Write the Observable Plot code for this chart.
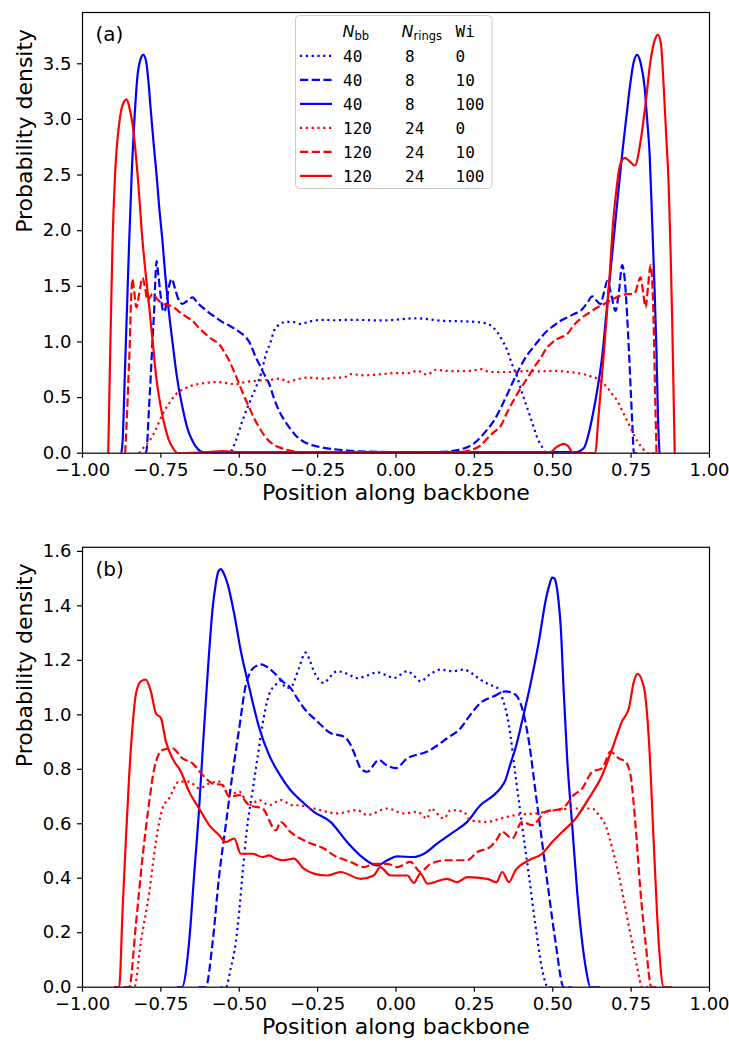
<!DOCTYPE html>
<html><head><meta charset="utf-8">
<script src="https://cdn.jsdelivr.net/npm/d3@7"></script>
<script src="https://cdn.jsdelivr.net/npm/@observablehq/plot@0.6"></script>
<style>
body{margin:0;background:#fff;}
#fig{position:relative;width:729px;height:1045px;font-family:"DejaVu Sans",sans-serif;background:#fff;}
#fig > svg{position:absolute;left:0;}
</style></head><body><div id="fig"></div>
<script>
// ---------- tick values ----------
const xTicks = [-1, -0.75, -0.5, -0.25, 0, 0.25, 0.5, 0.75, 1];
const yTicksA = [0, 0.5, 1, 1.5, 2, 2.5, 3, 3.5];
const yTicksB = [0, 0.2, 0.4, 0.6, 0.8, 1.0, 1.2, 1.4, 1.6];

// ---------- legend table ----------
const legNbb = ["40", "40", "40", "120", "120", "120"];
const legNrings = ["8", "8", "8", "24", "24", "24"];
const legWi = ["0", "10", "100", "0", "10", "100"];

// ---------- panel (a) curves: [position, density] ----------
const a_blueDot = [[-0.56,0],[-0.532,0],[-0.51,0.12],[-0.49,0.29],[-0.468,0.45],[-0.447,0.59],[-0.43,0.72],[-0.415,0.89],[-0.40,1.0],[-0.389,1.10],[-0.37,1.16],[-0.35,1.18],[-0.33,1.18],[-0.305,1.163],[-0.28,1.18],[-0.255,1.195],[-0.231,1.199],[-0.2,1.195],[-0.15,1.198],[-0.1,1.197],[-0.05,1.193],[0,1.2],[0.03,1.208],[0.068,1.213],[0.1,1.205],[0.15,1.19],[0.206,1.186],[0.25,1.18],[0.291,1.163],[0.31,1.13],[0.323,1.088],[0.34,1.01],[0.355,0.923],[0.37,0.80],[0.387,0.683],[0.40,0.56],[0.418,0.413],[0.435,0.27],[0.45,0.144],[0.465,0.06],[0.482,0],[0.5,0]];
const a_blueDash = [[-0.80,0],[-0.796,0.02],[-0.788,0.4],[-0.782,0.71],[-0.776,1.05],[-0.771,1.31],[-0.767,1.6],[-0.764,1.726],[-0.758,1.6],[-0.75,1.4],[-0.744,1.29],[-0.739,1.27],[-0.732,1.35],[-0.724,1.5],[-0.715,1.567],[-0.707,1.5],[-0.695,1.39],[-0.681,1.343],[-0.665,1.37],[-0.649,1.40],[-0.633,1.35],[-0.617,1.31],[-0.595,1.26],[-0.575,1.22],[-0.555,1.18],[-0.532,1.148],[-0.51,1.11],[-0.49,1.07],[-0.478,1.04],[-0.468,1.0],[-0.457,0.93],[-0.447,0.86],[-0.436,0.80],[-0.426,0.74],[-0.415,0.68],[-0.404,0.62],[-0.39,0.50],[-0.373,0.38],[-0.357,0.30],[-0.34,0.23],[-0.32,0.16],[-0.298,0.11],[-0.265,0.07],[-0.23,0.048],[-0.19,0.033],[-0.156,0.024],[-0.1,0.015],[0,0.01],[0.1,0.01],[0.163,0.015],[0.2,0.03],[0.227,0.054],[0.25,0.09],[0.27,0.144],[0.29,0.21],[0.312,0.29],[0.333,0.40],[0.355,0.53],[0.376,0.66],[0.397,0.78],[0.418,0.88],[0.44,0.96],[0.46,1.03],[0.482,1.10],[0.505,1.15],[0.525,1.19],[0.546,1.22],[0.567,1.25],[0.589,1.28],[0.61,1.35],[0.626,1.41],[0.64,1.37],[0.652,1.34],[0.663,1.44],[0.674,1.55],[0.687,1.42],[0.70,1.28],[0.711,1.45],[0.7215,1.69],[0.73,1.55],[0.737,1.25],[0.743,0.92],[0.749,0.55],[0.754,0.25],[0.759,0],[0.78,0]];
const a_blueSolid = [[-0.876,0],[-0.872,0.11],[-0.865,0.71],[-0.858,1.31],[-0.851,1.91],[-0.843,2.51],[-0.832,3.11],[-0.824,3.41],[-0.815,3.54],[-0.806,3.58],[-0.797,3.52],[-0.79,3.35],[-0.783,3.11],[-0.774,2.81],[-0.764,2.51],[-0.755,2.2],[-0.745,1.91],[-0.736,1.6],[-0.726,1.31],[-0.713,1.0],[-0.70,0.71],[-0.681,0.41],[-0.665,0.22],[-0.649,0.11],[-0.633,0.04],[-0.617,0.01],[-0.55,0.005],[0,0.01],[0.5,0.01],[0.573,0.01],[0.60,0.05],[0.615,0.18],[0.63,0.38],[0.645,0.62],[0.658,0.88],[0.669,1.2],[0.679,1.49],[0.69,1.8],[0.70,2.09],[0.711,2.4],[0.7215,2.69],[0.734,3.0],[0.746,3.29],[0.757,3.5],[0.769,3.58],[0.781,3.5],[0.793,3.29],[0.801,3.0],[0.809,2.69],[0.817,2.09],[0.8246,1.49],[0.831,0.90],[0.836,0.29],[0.8405,0]];
const a_redDot = [[-0.82,0],[-0.805,0.05],[-0.787,0.11],[-0.765,0.22],[-0.745,0.35],[-0.723,0.45],[-0.702,0.53],[-0.675,0.58],[-0.649,0.61],[-0.61,0.63],[-0.575,0.64],[-0.54,0.63],[-0.511,0.62],[-0.48,0.64],[-0.447,0.65],[-0.40,0.66],[-0.368,0.67],[-0.347,0.64],[-0.32,0.66],[-0.283,0.68],[-0.23,0.67],[-0.19,0.68],[-0.167,0.68],[-0.145,0.71],[-0.1,0.70],[-0.049,0.71],[0,0.72],[0.04,0.72],[0.068,0.74],[0.1,0.705],[0.126,0.75],[0.16,0.74],[0.206,0.737],[0.24,0.74],[0.27,0.755],[0.30,0.73],[0.333,0.73],[0.376,0.73],[0.42,0.74],[0.46,0.735],[0.503,0.74],[0.55,0.73],[0.599,0.71],[0.622,0.69],[0.642,0.67],[0.66,0.63],[0.674,0.59],[0.69,0.53],[0.706,0.47],[0.722,0.38],[0.7375,0.29],[0.753,0.2],[0.769,0.11],[0.785,0.05],[0.801,0],[0.84,0]];
const a_redDash = [[-0.864,0],[-0.858,0.35],[-0.853,0.71],[-0.849,1.0],[-0.846,1.31],[-0.8405,1.567],[-0.835,1.45],[-0.828,1.31],[-0.82,1.42],[-0.8086,1.576],[-0.80,1.48],[-0.793,1.37],[-0.785,1.40],[-0.777,1.43],[-0.76,1.38],[-0.745,1.343],[-0.725,1.33],[-0.7075,1.31],[-0.695,1.28],[-0.681,1.25],[-0.665,1.22],[-0.649,1.19],[-0.63,1.13],[-0.607,1.07],[-0.585,1.02],[-0.564,0.98],[-0.55,0.92],[-0.532,0.83],[-0.516,0.73],[-0.50,0.62],[-0.484,0.51],[-0.468,0.41],[-0.452,0.31],[-0.436,0.23],[-0.415,0.14],[-0.394,0.084],[-0.37,0.05],[-0.34,0.024],[-0.3,0.01],[0,0.005],[0.2,0.01],[0.24,0.03],[0.27,0.07],[0.29,0.13],[0.312,0.19],[0.333,0.24],[0.355,0.37],[0.376,0.48],[0.397,0.58],[0.418,0.67],[0.44,0.77],[0.46,0.85],[0.482,0.95],[0.493,0.98],[0.51,1.02],[0.525,1.04],[0.546,1.07],[0.567,1.15],[0.589,1.21],[0.615,1.26],[0.642,1.31],[0.67,1.35],[0.695,1.39],[0.72,1.42],[0.7375,1.43],[0.755,1.43],[0.764,1.45],[0.772,1.53],[0.78,1.58],[0.788,1.45],[0.796,1.31],[0.804,1.5],[0.812,1.69],[0.818,1.5],[0.822,1.15],[0.826,0.6],[0.831,0]];
const a_redSolid = [[-0.918,0],[-0.913,0.71],[-0.908,1.4],[-0.904,1.91],[-0.896,2.51],[-0.883,2.96],[-0.872,3.13],[-0.859,3.18],[-0.85,3.1],[-0.8405,2.96],[-0.8245,2.51],[-0.8086,1.91],[-0.798,1.6],[-0.787,1.31],[-0.776,1.0],[-0.766,0.71],[-0.75,0.41],[-0.737,0.24],[-0.7235,0.11],[-0.71,0.04],[-0.697,0],[-0.6,0.01],[-0.55,0.02],[-0.5,0.01],[0.4,0.005],[0.493,0.01],[0.51,0.05],[0.535,0.084],[0.55,0.06],[0.562,0.01],[0.6,0],[0.636,0],[0.645,0.3],[0.654,0.6],[0.663,0.9],[0.679,1.49],[0.693,2.09],[0.702,2.34],[0.711,2.54],[0.72,2.63],[0.73,2.655],[0.746,2.62],[0.762,2.586],[0.78,2.8],[0.796,3.14],[0.812,3.53],[0.825,3.71],[0.835,3.763],[0.845,3.68],[0.854,3.29],[0.862,2.85],[0.870,2.39],[0.876,1.8],[0.881,1.19],[0.885,0.6],[0.889,0]];

// ---------- panel (b) curves ----------
const b_blueDot = [[-0.56,0],[-0.543,0],[-0.527,0.07],[-0.511,0.165],[-0.50,0.28],[-0.49,0.41],[-0.474,0.595],[-0.458,0.718],[-0.442,0.84],[-0.426,0.963],[-0.405,1.074],[-0.383,1.111],[-0.368,1.125],[-0.351,1.099],[-0.337,1.10],[-0.31,1.17],[-0.289,1.228],[-0.275,1.2],[-0.262,1.16],[-0.23,1.117],[-0.21,1.14],[-0.188,1.16],[-0.155,1.15],[-0.124,1.135],[-0.09,1.145],[-0.06,1.156],[-0.03,1.145],[-0.007,1.135],[0.036,1.16],[0.06,1.14],[0.078,1.123],[0.11,1.15],[0.142,1.166],[0.18,1.16],[0.216,1.166],[0.245,1.15],[0.269,1.129],[0.3,1.11],[0.323,1.099],[0.339,1.062],[0.36,0.963],[0.381,0.779],[0.402,0.595],[0.424,0.41],[0.445,0.226],[0.466,0.066],[0.485,0],[0.51,0]];
const b_blueDash = [[-0.63,0],[-0.607,0],[-0.585,0.165],[-0.564,0.41],[-0.543,0.595],[-0.522,0.779],[-0.50,0.951],[-0.479,1.111],[-0.463,1.16],[-0.445,1.18],[-0.431,1.185],[-0.41,1.175],[-0.394,1.16],[-0.362,1.123],[-0.337,1.10],[-0.315,1.06],[-0.294,1.025],[-0.251,0.976],[-0.209,0.933],[-0.166,0.92],[-0.145,0.89],[-0.13,0.85],[-0.113,0.804],[-0.092,0.791],[-0.055,0.834],[-0.03,0.815],[-0.002,0.804],[0.036,0.84],[0.1,0.865],[0.163,0.914],[0.206,0.951],[0.237,1.0],[0.269,1.043],[0.312,1.068],[0.349,1.086],[0.381,1.074],[0.402,1.025],[0.424,0.902],[0.445,0.718],[0.466,0.533],[0.487,0.349],[0.509,0.165],[0.535,0],[0.56,0]];
const b_blueSolid = [[-0.70,0],[-0.683,0],[-0.66,0.165],[-0.644,0.41],[-0.628,0.656],[-0.615,0.902],[-0.601,1.148],[-0.585,1.39],[-0.575,1.48],[-0.567,1.525],[-0.559,1.535],[-0.548,1.515],[-0.537,1.48],[-0.516,1.37],[-0.495,1.234],[-0.468,1.099],[-0.436,0.951],[-0.405,0.853],[-0.368,0.775],[-0.337,0.724],[-0.305,0.687],[-0.262,0.644],[-0.209,0.607],[-0.156,0.533],[-0.102,0.472],[-0.06,0.447],[-0.028,0.466],[0.004,0.48],[0.057,0.478],[0.089,0.49],[0.131,0.527],[0.184,0.57],[0.227,0.607],[0.269,0.668],[0.312,0.705],[0.333,0.73],[0.349,0.76],[0.365,0.82],[0.381,0.877],[0.402,0.976],[0.424,1.086],[0.456,1.271],[0.477,1.418],[0.49,1.48],[0.498,1.504],[0.506,1.5],[0.514,1.46],[0.52,1.40],[0.525,1.332],[0.535,1.086],[0.546,0.84],[0.562,0.595],[0.578,0.349],[0.594,0.165],[0.607,0.06],[0.62,0],[0.65,0]];
const b_redDot = [[-0.85,0],[-0.835,0],[-0.814,0.165],[-0.787,0.349],[-0.766,0.533],[-0.745,0.656],[-0.724,0.693],[-0.692,0.755],[-0.66,0.755],[-0.628,0.73],[-0.596,0.748],[-0.564,0.755],[-0.532,0.705],[-0.5,0.718],[-0.468,0.668],[-0.436,0.687],[-0.405,0.668],[-0.368,0.687],[-0.33,0.668],[-0.315,0.668],[-0.262,0.656],[-0.188,0.638],[-0.124,0.65],[-0.092,0.632],[-0.028,0.656],[0.025,0.638],[0.068,0.644],[0.1,0.619],[0.11,0.656],[0.153,0.619],[0.174,0.65],[0.216,0.644],[0.237,0.613],[0.291,0.607],[0.333,0.619],[0.381,0.632],[0.445,0.638],[0.509,0.65],[0.573,0.656],[0.626,0.656],[0.647,0.632],[0.668,0.595],[0.69,0.509],[0.711,0.41],[0.732,0.288],[0.753,0.165],[0.77,0.07],[0.785,0],[0.81,0]];
const b_redDash = [[-0.87,0],[-0.851,0],[-0.83,0.226],[-0.809,0.472],[-0.787,0.681],[-0.771,0.804],[-0.745,0.871],[-0.713,0.877],[-0.681,0.84],[-0.649,0.822],[-0.617,0.779],[-0.585,0.748],[-0.553,0.742],[-0.532,0.699],[-0.5,0.705],[-0.468,0.668],[-0.426,0.656],[-0.383,0.576],[-0.368,0.607],[-0.337,0.57],[-0.283,0.533],[-0.23,0.509],[-0.198,0.484],[-0.145,0.46],[-0.102,0.441],[-0.071,0.453],[-0.028,0.453],[0.004,0.441],[0.046,0.46],[0.078,0.423],[0.11,0.453],[0.163,0.466],[0.227,0.466],[0.259,0.496],[0.301,0.515],[0.32,0.54],[0.339,0.57],[0.371,0.546],[0.402,0.607],[0.434,0.595],[0.477,0.644],[0.53,0.656],[0.567,0.705],[0.594,0.73],[0.626,0.791],[0.658,0.804],[0.684,0.865],[0.711,0.84],[0.732,0.828],[0.748,0.779],[0.764,0.595],[0.78,0.349],[0.796,0.165],[0.815,0],[0.84,0]];
const b_redSolid = [[-0.90,0],[-0.883,0],[-0.872,0.288],[-0.862,0.533],[-0.851,0.779],[-0.84,0.963],[-0.83,1.074],[-0.814,1.123],[-0.798,1.129],[-0.782,1.086],[-0.766,1.006],[-0.75,0.988],[-0.734,0.902],[-0.713,0.84],[-0.686,0.791],[-0.66,0.718],[-0.628,0.656],[-0.596,0.595],[-0.564,0.558],[-0.543,0.533],[-0.516,0.546],[-0.495,0.49],[-0.458,0.49],[-0.426,0.478],[-0.405,0.484],[-0.383,0.472],[-0.362,0.466],[-0.326,0.472],[-0.294,0.435],[-0.262,0.417],[-0.22,0.41],[-0.177,0.423],[-0.113,0.398],[-0.071,0.41],[-0.05,0.441],[-0.018,0.41],[0.036,0.41],[0.057,0.383],[0.078,0.417],[0.1,0.38],[0.163,0.398],[0.195,0.386],[0.227,0.404],[0.291,0.398],[0.32,0.385],[0.339,0.423],[0.36,0.386],[0.381,0.429],[0.424,0.466],[0.466,0.49],[0.498,0.533],[0.53,0.57],[0.573,0.619],[0.615,0.693],[0.658,0.779],[0.69,0.877],[0.721,0.976],[0.743,1.025],[0.759,1.123],[0.771,1.15],[0.791,1.099],[0.807,0.902],[0.822,0.533],[0.838,0.165],[0.854,0],[0.88,0]];

// ---------- styling ----------
const BLUE = "#0000ff", RED = "#ff0000";
const DOT = "2.2,3.6", DASH = "8.2,3.5", SOLID = null;
const styles = [
  {color: BLUE, dash: DOT}, {color: BLUE, dash: DASH}, {color: BLUE, dash: SOLID},
  {color: RED, dash: DOT}, {color: RED, dash: DASH}, {color: RED, dash: SOLID}
];
const panelA = [a_blueDot, a_blueDash, a_blueSolid, a_redDot, a_redDash, a_redSolid];
const panelB = [b_blueDot, b_blueDash, b_blueSolid, b_redDot, b_redDash, b_redSolid];

const fmt2 = d => (d < 0 ? "\u2212" : "") + Math.abs(d).toFixed(2);
const fmt1 = d => Math.abs(d).toFixed(1);

function panel(curves, yDomain, yTicks, tag, height, mt, mb) {
  const lines = curves.map((c, i) => {
    const o = {x: d => d[0], y: d => d[1], stroke: styles[i].color, strokeWidth: 2.2,
      curve: "monotone-x", clip: true, strokeLinecap: "butt"};
    if (styles[i].dash) o.strokeDasharray = styles[i].dash;
    return Plot.line(c, o);
  });
  return Plot.plot({
    width: 729, height, marginLeft: 82, marginRight: 20, marginTop: mt, marginBottom: mb,
    style: {fontFamily: "DejaVu Sans, sans-serif", fontSize: "18px", color: "black", background: "transparent", overflow: "visible"},
    x: {domain: [-1, 1]},
    y: {domain: yDomain},
    marks: [
      ...lines,
      Plot.frame({stroke: "black", strokeWidth: 1.2}),
      Plot.axisX({ticks: xTicks, tickFormat: fmt2, tickSize: 5, tickPadding: 5, label: null, strokeWidth: 1.2}),
      Plot.axisY({ticks: yTicks, tickFormat: fmt1, tickSize: 5, tickPadding: 6, label: null, strokeWidth: 1.2}),
      Plot.text([tag], {text: d => d, frameAnchor: "top-left", dx: 13, dy: 22, fontSize: 20, lineAnchor: "middle", textAnchor: "start"}),
      Plot.text(["Position along backbone"], {text: d => d, frameAnchor: "bottom", dy: 40, fontSize: 22, lineAnchor: "middle"}),
      Plot.text(["Probability density"], {text: d => d, frameAnchor: "left", dx: -58, rotate: -90, fontSize: 22, lineAnchor: "middle"})
    ]
  });
}

const fig = document.getElementById("fig");
const svgA = panel(panelA, [0, 3.961], yTicksA, "(a)", 500, 12, 47.3);
svgA.style.top = "0px";
fig.appendChild(svgA);
const svgB = panel(panelB, [0, 1.615], yTicksB, "(b)", 545, 46.8, 58.3);
svgB.style.top = "500px";
fig.appendChild(svgB);

// ---------- legend (panel a) ----------
const leg = d3.create("svg").attr("width", 729).attr("height", 200).style("top", "0px").style("pointer-events", "none");
leg.append("rect").attr("x", 295.5).attr("y", 15.5).attr("width", 196.5).attr("height", 173).attr("rx", 4)
  .attr("fill", "white").attr("fill-opacity", 0.8).attr("stroke", "#cccccc").attr("stroke-width", 1);
const hdr = leg.append("g").attr("font-size", 16).attr("fill", "black");
const h1 = hdr.append("text").attr("x", 342.5).attr("y", 36.7).attr("font-family", "DejaVu Sans");
h1.append("tspan").attr("font-style", "italic").text("N");
h1.append("tspan").attr("font-size", 11.5).attr("dy", 3).text("bb");
const h2 = hdr.append("text").attr("x", 401.5).attr("y", 36.7).attr("font-family", "DejaVu Sans");
h2.append("tspan").attr("font-style", "italic").text("N");
h2.append("tspan").attr("font-size", 11.5).attr("dy", 3).text("rings");
hdr.append("text").attr("x", 455.5).attr("y", 36.7).attr("font-family", "DejaVu Sans Mono").text("Wi");
styles.forEach((s, i) => {
  const base = 61.7 + i * 24;
  const cy = base - 5.8;
  const ln = leg.append("line").attr("x1", 300).attr("x2", 332).attr("y1", cy).attr("y2", cy)
    .attr("stroke", s.color).attr("stroke-width", 2.2);
  if (s.dash) ln.attr("stroke-dasharray", s.dash);
  const g = leg.append("g").attr("font-family", "DejaVu Sans Mono").attr("font-size", 16).attr("fill", "black");
  g.append("text").attr("x", 343).attr("y", base).text(legNbb[i]);
  g.append("text").attr("x", 405).attr("y", base).text(legNrings[i]);
  g.append("text").attr("x", 455.5).attr("y", base).text(legWi[i]);
});
fig.appendChild(leg.node());
</script>
</body></html>
